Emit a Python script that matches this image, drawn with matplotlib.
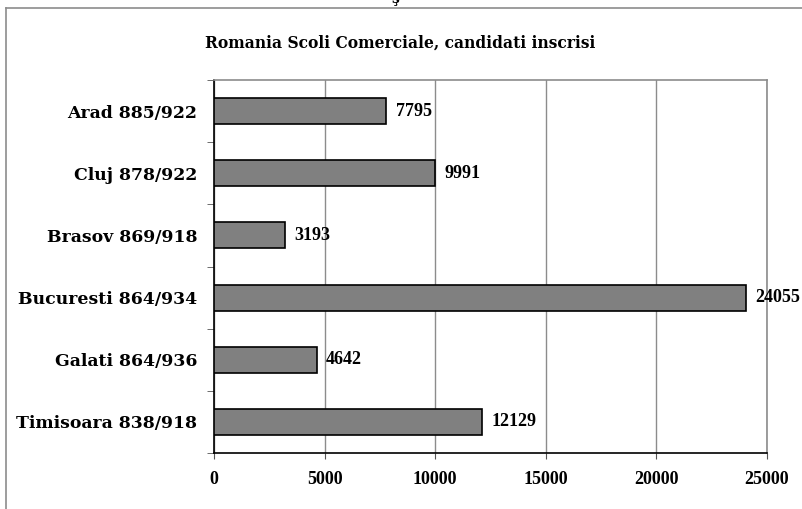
import matplotlib.pyplot as plt
import numpy as np
from matplotlib.lines import Line2D

# data, top to bottom as shown
categories = ['Arad 885/922', 'Cluj 878/922', 'Brasov 869/918',
              'Bucuresti 864/934', 'Galati 864/936', 'Timisoara 838/918']
candidati = [7795, 9991, 3193, 24055, 4642, 12129]
x_ticks = [0, 5000, 10000, 15000, 20000, 25000]

plt.rcParams['font.family'] = ['DejaVu Serif']
plt.rcParams['font.weight'] = 'bold'
num_font = ['Liberation Serif', 'DejaVu Serif']  # narrower digits

W, H = 802, 509
fig = plt.figure(figsize=(W / 100, H / 100), dpi=100)
fig.patch.set_facecolor('white')

# outer chart frame (cut off on the right and bottom)
frame_color = '#8c8c8c'
fig.add_artist(Line2D([6 / W, 6 / W], [0, 1 - 8 / H], transform=fig.transFigure,
                      color=frame_color, lw=1.2))
fig.add_artist(Line2D([6 / W, 1], [1 - 8 / H, 1 - 8 / H], transform=fig.transFigure,
                      color=frame_color, lw=1.2))
fig.text(0.493, 1 - 3 / H, 'ş', ha='center', va='baseline', fontsize=10,
         fontweight='bold')

ax = fig.add_axes([214 / W, 1 - 453 / H, (767 - 214) / W, (453 - 80) / H])

y = np.arange(len(categories))
ax.barh(y, candidati, height=0.42, color='#808080', edgecolor='black',
        linewidth=1.2, zorder=3)
for yi, v in zip(y, candidati):
    ax.text(v + 420, yi, str(v), ha='left', va='center', fontsize=13,
            fontweight='bold', family=num_font, zorder=4)

ax.set_xlim(0, 25000)
ax.set_ylim(len(categories) - 0.5, -0.5)
ax.set_xticks(x_ticks)
ax.set_xticklabels([str(t) for t in x_ticks], fontsize=13, fontweight='bold',
                   family=num_font)
ax.set_yticks(y)
ax.set_yticklabels(categories, fontsize=12.4, fontweight='bold')
ax.set_yticks(np.arange(len(categories) + 1) - 0.5, minor=True)
ax.tick_params(axis='y', which='major', length=0, pad=12)
ax.tick_params(axis='y', which='minor', length=5, color='#555555')
ax.tick_params(axis='x', length=4, pad=9, color='#555555')

ax.grid(axis='x', color='#8c8c8c', lw=1, zorder=0)
for side in ['top', 'right']:
    ax.spines[side].set_color('#8c8c8c')
    ax.spines[side].set_linewidth(1.2)
for side in ['left', 'bottom']:
    ax.spines[side].set_color('black')
    ax.spines[side].set_linewidth(1.2)

fig.text(0.499, 1 - 43 / H, 'Romania Scoli Comerciale, candidati inscrisi',
         ha='center', va='center', fontsize=11.2, fontweight='bold')

fig.savefig('out.png', dpi=100)
